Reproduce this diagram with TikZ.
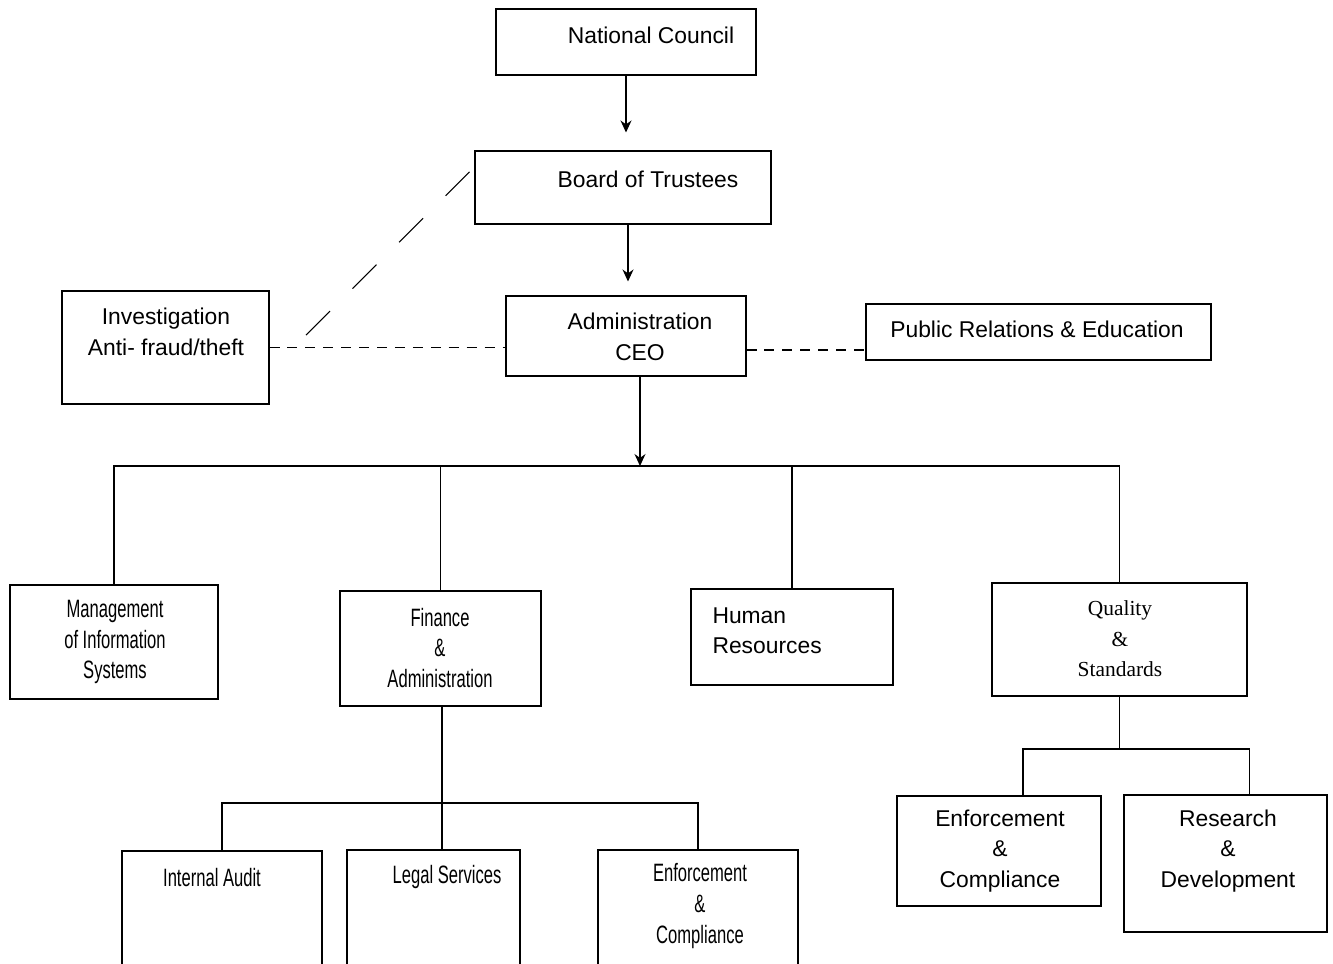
\documentclass[tikz,border=0pt]{standalone}
\usepackage{fontspec}
\setmainfont{Liberation Sans}
\newfontfamily\narrowfont[FakeStretch=0.66]{Liberation Sans}
\newfontfamily\seriffont{Liberation Serif}
\usetikzlibrary{positioning,arrows.meta,fit,calc}
\tikzset{
unitnode/.style={rectangle, draw=black, line width=0.6pt, inner sep=0pt},
labelnode/.style={font=\fontsize{13}{17.3}\selectfont, inner sep=0pt, align=center},
narrownode/.style={font=\narrowfont\fontsize{14.3}{17.5}\selectfont, inner sep=0pt, align=center},
serifnode/.style={font=\seriffont\fontsize{12.2}{17.3}\selectfont, inner sep=0pt, align=center},
dashlink/.style={line width=0.6pt, dash pattern=on 5.7pt off 4.5pt},
diaglink/.style={line width=0.6pt, dash pattern=on 19.3pt off 18.1pt},
>={Stealth[width=2.2mm,length=2.4mm]}
}

\begin{document}
\begin{tikzpicture}[x=0.02cm, y=-0.02cm, line width=0.6pt]
\useasboundingbox (0,0) rectangle (1333,964);

%Top levels
\node[unitnode, fit={(496,9) (756,75)}] (council) {};
\node[labelnode] (councilText) at(651,35) {National Council};
\node[unitnode, fit={(475,151) (771,224)}] (trustees) {};
\node[labelnode] (trusteesText) at(648,179) {Board of Trustees};
\node[unitnode, fit={(506,296) (746,376)}] (ceo) {};
\node[labelnode] (ceoText) at(640,337) {Administration\\CEO};

%Side units
\node[unitnode, fit={(62,291) (269,404)}] (fraud) {};
\node[labelnode] (fraudText) at(166,332) {Investigation\\Anti- fraud/theft};
\node[unitnode, fit={(866,304) (1211,360)}] (relations) {};
\node[labelnode] (relationsText) at(1037,329) {Public Relations \& Education};

%Departments
\node[unitnode, fit={(10,585) (218,699)}] (mis) {};
\node[narrownode] (misText) at(115,642) {Management\\of Information\\Systems};
\node[unitnode, fit={(340,591) (541,706)}] (finance) {};
\node[narrownode] (financeText) at(440,648) {Finance\\\&\\Administration};
\node[unitnode, fit={(691,589) (893,685)}] (hr) {};
\node[labelnode, align=left, anchor=west] (hrText) at(712,631) {Human\\Resources};
\node[unitnode, fit={(992,583) (1247,696)}] (quality) {};
\node[serifnode] (qualityText) at(1120,639) {Quality\\\&\\Standards};

%Finance sections
\node[unitnode, fit={(122,851) (322,985)}] (audit) {};
\node[narrownode] (auditText) at(212,878) {Internal Audit};
\node[unitnode, fit={(347,850) (520,985)}] (legal) {};
\node[narrownode] (legalText) at(447,877) {Legal Services};
\node[unitnode, fit={(598,850) (798,985)}] (enforceFin) {};
\node[narrownode] (enforceFinText) at(700,906) {Enforcement\\\&\\Compliance};

%Quality sections
\node[unitnode, fit={(897,796) (1101,906)}] (enforceQual) {};
\node[labelnode] (enforceQualText) at(1000,851) {Enforcement\\\&\\Compliance};
\node[unitnode, fit={(1124,795) (1327,932)}] (research) {};
\node[labelnode] (researchText) at(1228,851) {Research\\\&\\Development};

\coordinate (busTop) at(640,466);
\coordinate (busFin) at(442,803);
\coordinate (busQual) at(1120,749);
\coordinate (diagFoot) at(306,335);

\draw[->, shorten >=0.36cm] (council.south) -- (council.south |- trustees.north);
\draw[->, shorten >=0.28cm] ([xshift=0.1cm]trustees.south) -- ([xshift=0.1cm]trustees.south |- ceo.north);
\draw[->] (ceo.south -| busTop) -- (busTop);

% dashed links
\draw[dashlink] (fraud.east) -- (fraud.east -| ceo.west);
\draw[dashlink] ([yshift=-0.28cm]ceo.east) -- ([yshift=-0.28cm]ceo.east -| relations.west);
\draw[diaglink] (diagFoot) -- ([yshift=0.41cm]trustees.west);

%Department bus
\draw (mis.north) -- (mis.north |- busTop) -- (quality.north |- busTop) -- (quality.north);
\draw (finance.north) -- (finance.north |- busTop);
\draw (hr.north) -- (hr.north |- busTop);

\draw (finance.south -| busFin) -- (legal.north -| busFin);
\draw (audit.north) -- (audit.north |- busFin) -- (enforceFin.north |- busFin) -- (enforceFin.north);

\draw (quality.south) -- (quality.south |- busQual);
\draw ([xshift=0.48cm]enforceQual.north) |- (busQual) -| ([xshift=0.48cm]research.north);
\end{tikzpicture}
\end{document}
